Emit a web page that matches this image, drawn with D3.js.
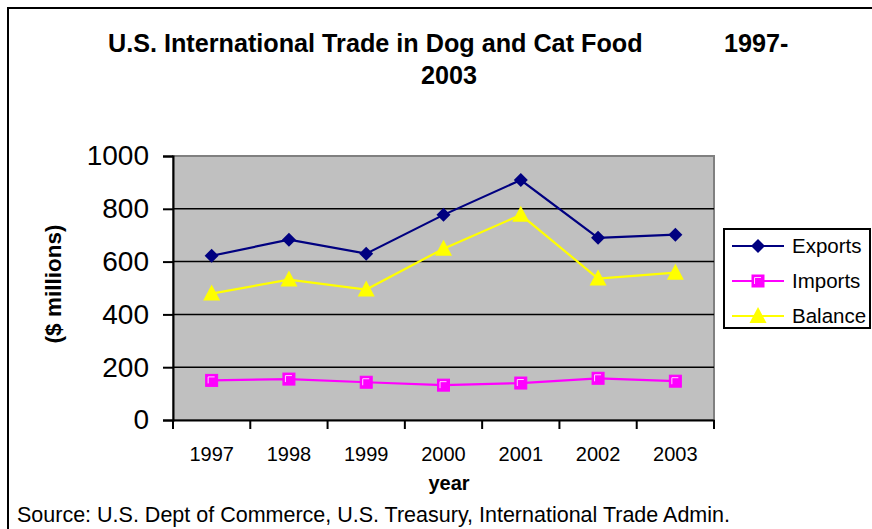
<!DOCTYPE html>
<html>
<head>
<meta charset="utf-8">
<script src="https://cdn.jsdelivr.net/npm/d3@7"></script>
<style>
  body { margin: 0; background: #fff; }
  svg text { font-family: "Liberation Sans", Arial, sans-serif; fill: #000; }
</style>
</head>
<body>
<svg id="chart" width="872" height="529"></svg>
<script>
// data ($ millions)
var years = ['1997', '1998', '1999', '2000', '2001', '2002', '2003'];
var exportsVals = [622, 683, 630, 777, 909, 690, 702];
var importsVals = [150, 155, 143, 132, 140, 158, 147];
var balanceVals = [479, 532, 494, 649, 777, 536, 558];
var yTicks = [0, 200, 400, 600, 800, 1000];

var series = [
    {name: 'Exports', values: exportsVals, color: '#000080', marker: 'diamond'},
    {name: 'Imports', values: importsVals, color: '#ff00ff', marker: 'square'},
    {name: 'Balance', values: balanceVals, color: '#ffff00', marker: 'triangle'}
];

var svg = d3.select('#chart');

// outer frame (clipped at the right/bottom like the original)
svg.append('rect').attr('x', 8).attr('y', 8).attr('width', 900).attr('height', 600)
    .attr('fill', 'none').attr('stroke', '#000').attr('stroke-width', 2);

var plot = {left: 173, top: 156, right: 714, bottom: 420};

var x = d3.scaleBand().domain(years).range([plot.left, plot.right]).padding(0);
var y = d3.scaleLinear().domain([0, 1000]).range([plot.bottom, plot.top]);

// plot background
svg.append('rect')
    .attr('x', plot.left).attr('y', plot.top)
    .attr('width', plot.right - plot.left).attr('height', plot.bottom - plot.top)
    .attr('fill', '#c0c0c0').attr('stroke', '#808080').attr('stroke-width', 2);

// gridlines
svg.append('g').selectAll('line').data(yTicks.filter(function(d){ return d > 0 && d < 1000; }))
    .enter().append('line')
    .attr('x1', plot.left).attr('x2', plot.right)
    .attr('y1', function(d){ return y(d); }).attr('y2', function(d){ return y(d); })
    .attr('stroke', '#000').attr('stroke-width', 1.5);

// y axis
var yAxis = svg.append('g').attr('transform', 'translate(' + plot.left + ',0)')
    .call(d3.axisLeft(y).tickValues(yTicks).tickSize(10).tickPadding(14).tickFormat(d3.format('d')));
yAxis.select('.domain').attr('stroke', '#000').attr('stroke-width', 2);
yAxis.selectAll('.tick line').attr('stroke', '#000').attr('stroke-width', 2);
yAxis.selectAll('text').style('font-size', '28px').attr('fill', '#000')
    .style('font-family', '"Liberation Sans", Arial, sans-serif');

// x axis: labels at band centres, ticks at band edges
var xAxis = svg.append('g').attr('transform', 'translate(0,' + plot.bottom + ')')
    .call(d3.axisBottom(x).tickSize(0).tickPadding(27));
xAxis.select('.domain').attr('stroke', '#000').attr('stroke-width', 2);
xAxis.selectAll('text').style('font-size', '20px').attr('fill', '#000')
    .style('font-family', '"Liberation Sans", Arial, sans-serif');
var edges = years.map(function(d){ return x(d); }).concat([x(years[years.length - 1]) + x.bandwidth()]);
xAxis.selectAll('line.edge').data(edges).enter().append('line').attr('class', 'edge')
    .attr('x1', function(d){ return d; }).attr('x2', function(d){ return d; })
    .attr('y1', 0).attr('y2', 9)
    .attr('stroke', '#000').attr('stroke-width', 2);

function drawMarker(g, s, cx, cy) {
    var m = g.append('g').attr('transform', 'translate(' + cx + ',' + cy + ')');
    if (s.marker === 'square') {
        m.append('rect').attr('x', -6).attr('y', -6).attr('width', 12).attr('height', 12)
            .attr('fill', s.color).attr('stroke', s.color).attr('stroke-width', 1);
        m.append('path').attr('d', 'M-3.5,3 L-3.5,-3.5 L3,-3.5')
            .attr('fill', 'none').attr('stroke', '#ffd0ff').attr('stroke-width', 1);
    } else if (s.marker === 'diamond') {
        m.append('path').attr('d', 'M0,-7 L7,0 L0,7 L-7,0 Z').attr('fill', s.color);
    } else {
        m.append('path').attr('d', 'M0,-9 L8.5,7 L-8.5,7 Z').attr('fill', s.color);
    }
}

var line = d3.line()
    .x(function(d, i){ return x(years[i]) + x.bandwidth() / 2; })
    .y(function(d){ return y(d); });

series.forEach(function(s) {
    var g = svg.append('g');
    g.append('path').datum(s.values).attr('d', line)
        .attr('fill', 'none').attr('stroke', s.color).attr('stroke-width', 2.2);
    s.values.forEach(function(v, i) {
        drawMarker(g, s, x(years[i]) + x.bandwidth() / 2, y(v));
    });
});

// legend
var legend = svg.append('g');
legend.append('rect').attr('x', 724).attr('y', 229).attr('width', 146).attr('height', 99)
    .attr('fill', '#fff').attr('stroke', '#000').attr('stroke-width', 2);
series.forEach(function(s, i) {
    var ly = 246 + i * 35;
    var g = legend.append('g');
    g.append('line').attr('x1', 732).attr('x2', 784).attr('y1', ly).attr('y2', ly)
        .attr('stroke', s.color).attr('stroke-width', 2.2);
    drawMarker(g, s, 758, ly);
    g.append('text').attr('x', 792).attr('y', ly + 7).text(s.name).style('font-size', '20.5px');
});

// title
var title = svg.append('text').style('font-size', '25.2px').style('font-weight', 'bold');
title.append('tspan').attr('x', 108).attr('y', 52).text('U.S. International Trade in Dog and Cat Food');
title.append('tspan').attr('x', 724).attr('y', 52).text('1997-');
svg.append('text').attr('x', 449).attr('y', 84).attr('text-anchor', 'middle')
    .style('font-size', '25.2px').style('font-weight', 'bold').text('2003');

// axis titles
svg.append('text').attr('transform', 'translate(61,284) rotate(-90)')
    .attr('text-anchor', 'middle').style('font-size', '22.5px').style('font-weight', 'bold')
    .text('($ millions)');
svg.append('text').attr('x', 449).attr('y', 490).attr('text-anchor', 'middle')
    .style('font-size', '20px').style('font-weight', 'bold').text('year');

// source
svg.append('text').attr('x', 17).attr('y', 522).style('font-size', '21.5px')
    .text('Source: U.S. Dept of Commerce, U.S. Treasury, International Trade Admin.');
</script>
</body>
</html>
